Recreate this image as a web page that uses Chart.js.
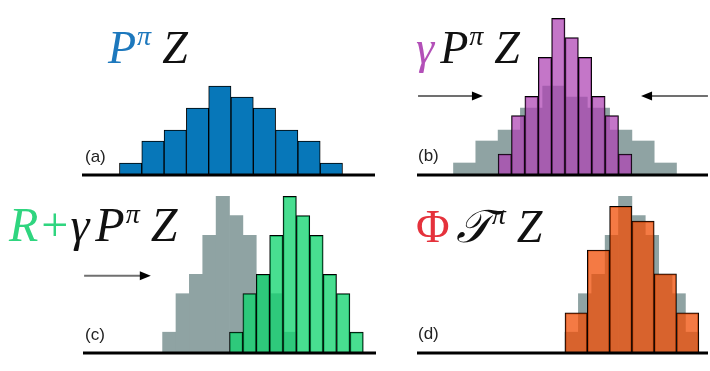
<!DOCTYPE html>
<html><head><meta charset="utf-8">
<script src="https://cdn.jsdelivr.net/npm/chart.js@4.4.1/dist/chart.umd.min.js"></script>
<style>
html,body{margin:0;padding:0;background:#fff;width:710px;height:371px;overflow:hidden}
#wrap{position:relative;width:710px;height:371px}
canvas{position:absolute;left:0;top:0}
.t{position:absolute;font-family:"Liberation Serif","DejaVu Serif",serif;font-style:italic;font-size:46px;line-height:46px;white-space:nowrap;color:#111}
.t .sp{font-size:28px;position:relative;top:-18px;margin-left:1px;margin-right:11px}
.t .up{font-style:normal}
.t .pl{font-style:normal;margin:0 2px 0 3px}
.t .g{margin-right:6px}
.lab{position:absolute;font-family:"Liberation Sans",Arial,sans-serif;font-size:17px;line-height:17px;color:#222}
</style></head><body>
<div id="wrap">
<canvas id="ca" width="710" height="371"></canvas>
<canvas id="cb" width="710" height="371"></canvas>
<canvas id="cc" width="710" height="371"></canvas>
<canvas id="cd" width="710" height="371"></canvas>
<div class="t" style="left:108px;top:25px"><span style="color:#1d78bd">P<span class="sp">π</span></span>Z</div>
<div class="t" style="left:416px;top:25px"><span class="g" style="color:#b350b8">γ</span>P<span class="sp">π</span>Z</div>
<div class="t" style="left:9px;top:202px;font-size:48px"><span style="color:#2fd57f">R<span class="pl">+</span></span><span class="g">γ</span>P<span class="sp">π</span>Z</div>
<div class="t" style="left:416px;top:204px"><span class="up g" style="color:#e5323c">Φ</span>𝒯<span class="sp">π</span>Z</div>
<div class="lab" style="left:85px;top:148px">(a)</div>
<div class="lab" style="left:418px;top:147px">(b)</div>
<div class="lab" style="left:85px;top:326px">(c)</div>
<div class="lab" style="left:418px;top:325px">(d)</div>
</div>
<script>
// ---- data (bin centres in return units, heights in probability units) ----
const originalCenters = [-4.5,-3.5,-2.5,-1.5,-0.5,0.5,1.5,2.5,3.5,4.5];
const originalHeights = [1,3,4,6,8,7,6,4,3,1];
const discountedCenters = [-2.7,-2.1,-1.5,-0.9,-0.3,0.3,0.9,1.5,2.1,2.7];
const discountedHeights = [1.8,5.3,7.05,10.6,14.15,12.4,10.6,7.05,5.3,1.8];
const shiftedCenters = [0.3,0.9,1.5,2.1,2.7,3.3,3.9,4.5,5.1,5.7];
const shiftedHeights = [1.8,5.3,7.05,10.6,14.15,12.4,10.6,7.05,5.3,1.8];
const projectedCenters = [0.5,1.5,2.5,3.5,4.5,5.5];
const projectedHeights = [3.55,9.27,13.25,11.9,7.1,3.55];

const GRAY = '#8fa3a3';

const decor = {
  id: 'decor',
  afterDatasetsDraw(chart, args, opts) {
    const {ctx, chartArea} = chart;
    const xs = chart.scales.x0, ys = chart.scales.y;
    (opts.arrows || []).forEach(a => {
      const x0 = xs.getPixelForValue(a.from), x1 = xs.getPixelForValue(a.to), y = ys.getPixelForValue(a.y);
      const dir = Math.sign(x1 - x0);
      ctx.save();
      ctx.strokeStyle = '#707070'; ctx.lineWidth = 2;
      ctx.beginPath(); ctx.moveTo(x0, y); ctx.lineTo(x1 - dir * 8, y); ctx.stroke();
      ctx.fillStyle = '#000';
      ctx.beginPath(); ctx.moveTo(x1, y); ctx.lineTo(x1 - dir * 11, y - 4.5); ctx.lineTo(x1 - dir * 11, y + 4.5); ctx.closePath(); ctx.fill();
      ctx.restore();
    });
    ctx.save();
    ctx.strokeStyle = '#000'; ctx.lineWidth = 3;
    ctx.beginPath(); ctx.moveTo(chartArea.left, chartArea.bottom + 1); ctx.lineTo(chartArea.right, chartArea.bottom + 1); ctx.stroke();
    ctx.restore();
  }
};

function series(centers, heights, fill, border) {
  return {
    data: centers.map((x, i) => ({x, y: heights[i]})),
    backgroundColor: fill,
    borderColor: border || 'rgba(0,0,0,0)',
    borderWidth: border ? 1 : 0,
    borderSkipped: 'bottom',
    grouped: false,
    barPercentage: 1,
    categoryPercentage: 1
  };
}

function panel(id, sets, xmin, xmax, padding, arrows) {
  const scales = { y: {min: 0, max: 15, display: false} };
  sets.forEach((s, i) => {
    s.xAxisID = 'x' + i;
    scales['x' + i] = {
      type: 'linear', min: xmin, max: xmax, display: false, offset: false,
      grid: {offset: false},
      afterBuildTicks: sc => { sc.ticks = [{value: xmin}, {value: xmax}]; }
    };
  });
  new Chart(document.getElementById(id), {
    type: 'bar',
    data: { datasets: sets },
    options: {
      responsive: false, animation: false, events: [],
      layout: { padding },
      scales,
      plugins: { legend: {display: false}, tooltip: {enabled: false}, decor: { arrows } }
    },
    plugins: [decor]
  });
}

panel('ca', [series(originalCenters, originalHeights, '#0777b9', '#000')],
  -6.68, 6.457, {left: 82, right: 335, top: 9, bottom: 197}, []);

panel('cb', [
  series(discountedCenters, discountedHeights, 'rgba(174,67,180,0.73)', '#000'),
  series(originalCenters, originalHeights, GRAY)
], -6.637, 6.413, {left: 417, right: 2, top: 9, bottom: 197},
  [{from: -6.59, to: -3.68, y: 7.1}, {from: 6.41, to: 3.41, y: 7.1}]);

panel('cc', [
  series(shiftedCenters, shiftedHeights, 'rgba(17,212,111,0.77)', '#000'),
  series(discountedCenters, discountedHeights, GRAY)
], -6.57, 6.57, {left: 83, right: 334, top: 187, bottom: 19},
  [{from: -6.52, to: -3.53, y: 6.94}]);

panel('cd', [
  series(projectedCenters, projectedHeights, 'rgba(240,78,6,0.75)', '#000'),
  series(shiftedCenters, shiftedHeights, GRAY)
], -6.637, 6.413, {left: 417, right: 2, top: 187, bottom: 19}, []);
</script>
</body></html>
